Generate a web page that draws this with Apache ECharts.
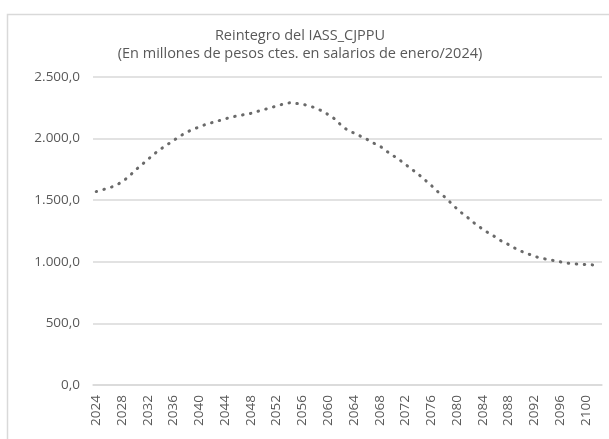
<!DOCTYPE html>
<html style="height: 100%">
<head>
    <meta charset="UTF-8">
    <title>Reintegro del IASS_CJPPU</title>
    <script type="text/javascript" src="https://cdn.jsdelivr.net/npm/echarts@6/dist/echarts.min.js"></script>
</head>
<body style="height: 100%; margin: 0; background: #fff">
    <div id="container" style="width: 609px; height: 439px"></div>
<script>
    var years = [];
    for (var y = 2024; y <= 2102; y++) years.push(String(y));

    // millones de pesos
    var reintegro = [
        1570, 1585, 1600, 1620, 1650, 1690, 1740, 1785, 1830, 1875,
        1915, 1950, 1985, 2020, 2050, 2075, 2095, 2115, 2130, 2145,
        2160, 2175, 2185, 2195, 2205, 2220, 2235, 2250, 2265, 2280,
        2290, 2285, 2280, 2265, 2250, 2225, 2195, 2160, 2110, 2070,
        2045, 2020, 1995, 1965, 1940, 1900, 1865, 1830, 1790, 1750,
        1710, 1665, 1620, 1570, 1530, 1480, 1430, 1385, 1345, 1300,
        1265, 1230, 1200, 1165, 1140, 1110, 1085, 1065, 1045, 1030,
        1020, 1010, 1000, 990, 985, 980, 978, 975, 972
    ];

    var titleText = 'Reintegro del IASS_CJPPU\n(En millones de pesos ctes. en salarios de enero/2024)';

    function fmt(v) {
        var s = Math.round(v).toString().replace(/\B(?=(\d{3})+(?!\d))/g, '.');
        return s + ',0';
    }

    var myChart = echarts.init(document.getElementById('container'));
    var option = {
        backgroundColor: '#fff',
        animation: false,
        graphic: [{
            type: 'rect',
            shape: { x: 7.5, y: 14.5, width: 620, height: 450 },
            style: { fill: 'none', stroke: '#d9d9d9', lineWidth: 1.5 },
            silent: true
        }],
        title: {
            text: titleText,
            left: 295,
            textAlign: 'center',
            top: 22,
            textStyle: {
                fontFamily: 'Open Sans',
                fontSize: 14.5,
                fontWeight: 'normal',
                color: '#595959',
                lineHeight: 18
            }
        },
        grid: { left: 93, right: 7, top: 77, bottom: 54 },
        xAxis: {
            type: 'category',
            data: years,
            boundaryGap: true,
            axisLine: { lineStyle: { color: '#d9d9d9', width: 1.5 } },
            axisTick: { show: false },
            axisLabel: {
                interval: 3,
                rotate: 90,
                margin: 10,
                color: '#595959',
                fontFamily: 'Open Sans',
                fontSize: 13.5
            }
        },
        yAxis: {
            type: 'value',
            min: 0,
            max: 2500,
            interval: 500,
            axisLine: { show: false },
            axisTick: { show: false },
            splitLine: { lineStyle: { color: '#d9d9d9', width: 1.5 } },
            axisLabel: {
                formatter: fmt,
                margin: 13,
                color: '#595959',
                fontFamily: 'Open Sans',
                fontSize: 13.5
            }
        },
        series: [{
            type: 'line',
            data: reintegro,
            showSymbol: false,
            smooth: 0.3,
            lineStyle: {
                color: '#6a6a6a',
                width: 3,
                type: [0.5, 7.5],
                cap: 'round'
            }
        }]
    };
    myChart.setOption(option);
</script>
</body>
</html>
